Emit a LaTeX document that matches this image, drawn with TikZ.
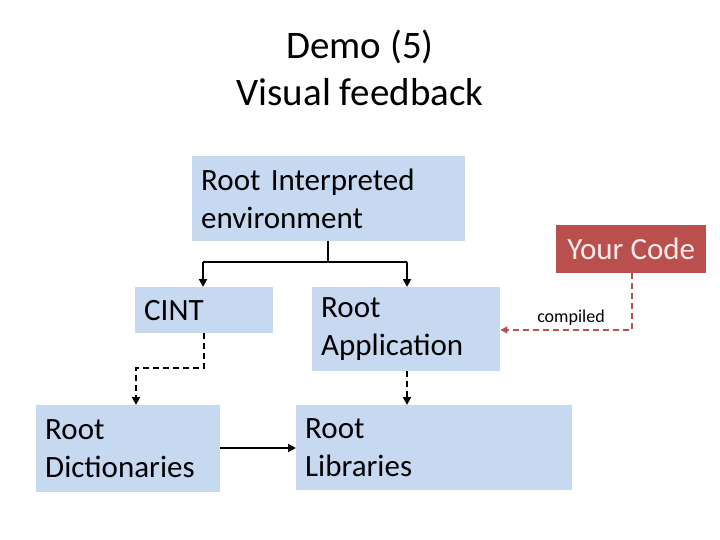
\documentclass[tikz,border=0pt]{standalone}
\usepackage{fontspec}
\setmainfont{Carlito}
\usetikzlibrary{arrows.meta}
\definecolor{boxblue}{HTML}{C6D9F1}
\definecolor{codered}{HTML}{B9504D}
\begin{document}
\begin{tikzpicture}[x=1pt,y=-1pt,
  box/.style={fill=boxblue,draw=none,anchor=north west,align=left,inner xsep=9pt,inner ysep=0pt,font=\fontsize{31}{38}\selectfont},
  con/.style={line width=2pt,-{Triangle[length=8pt,width=8pt]}},
  dcon/.style={con,dash pattern=on 6pt off 4pt}]
\useasboundingbox (0,0) rectangle (720,540);
\node[font=\fontsize{39}{47}\selectfont,align=center] (title) at (360,68) {Demo (5)\\Visual feedback};
\node[box,text width=255pt,minimum height=85pt] (rie) at (192,156) {Root Interpreted\\environment};
\node[box,text width=120pt,minimum height=46pt] (cint) at (135,287) {CINT};
\node[box,text width=170pt,minimum height=84pt] (app) at (312,287) {Root\\Application};
\node[box,text width=166pt,minimum height=87pt] (dict) at (36,405) {Root\\Dictionaries};
\node[box,text width=258pt,minimum height=85pt] (lib) at (296,405) {Root\\Libraries};
\node[fill=codered,text=white!92!red,anchor=north west,minimum width=150pt,minimum height=48pt,inner sep=0pt,font=\fontsize{31}{36}\selectfont] (code) at (556,225) {Your Code};
\coordinate (j) at (328,262);
\draw[line width=2pt] (rie.south -| j) -- (j);
\draw[con] (203,262) -- (203,287);
\draw[line width=2pt] (203,262) -- (407,262);
\draw[con] (407,262) -- (app.north -| 407,0);
\draw[dcon] (204,333) -- (204,368) -- (136,368) -- (dict.north -| 136,0);
\draw[dcon] (407,371) -- (lib.north -| 407,0);
\draw[con] (dict.east |- 0,448) -- (lib.west |- 0,448);
\draw[dcon,line width=1.5pt,draw=codered,-{Triangle[length=7pt,width=7pt]}] (code.south -| 632,0) -- (632,330) -- (app.east |- 0,330);
\node[font=\fontsize{18}{22}\selectfont] (cmp) at (571,318) {compiled};
\end{tikzpicture}
\end{document}
